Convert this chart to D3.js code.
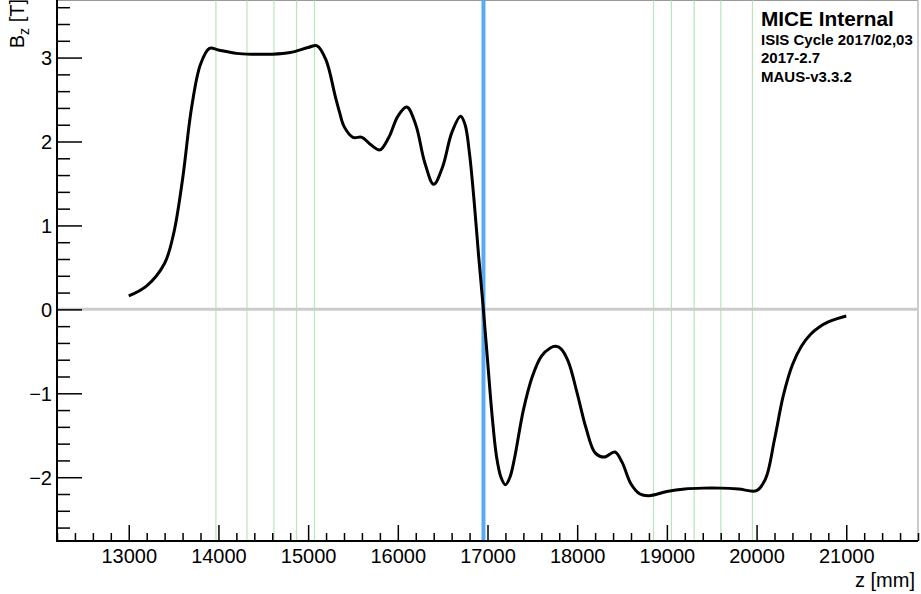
<!DOCTYPE html>
<html>
<head>
<meta charset="utf-8">
<script src="https://cdn.jsdelivr.net/npm/d3@7"></script>
<style>
  html, body { margin: 0; padding: 0; background: #fff; }
  svg { display: block; font-family: "Liberation Sans", Arial, Helvetica, sans-serif; }
</style>
</head>
<body>
<svg id="chart" width="921" height="594"></svg>
<script>
// On-axis field profile Bz(z)
const zPos = [13000, 13200, 13400, 13500, 13600, 13700, 13800, 13900, 14000, 14200, 14400, 14600, 14800, 15000, 15100,
  15200, 15300, 15350, 15400, 15500, 15600, 15700, 15800, 15900, 16000, 16100, 16200, 16300, 16400, 16500, 16600, 16700,
  16750, 16800, 16850, 16900, 16950, 17000, 17050, 17100, 17150, 17200, 17250, 17300, 17400, 17500, 17600, 17700,
  17760, 17820, 17900, 18000, 18100, 18200, 18300, 18420, 18500, 18600, 18700, 18800, 19000, 19200, 19400, 19600, 19800, 20000,
  20100, 20200, 20300, 20400, 20500, 20600, 20700, 20800, 20900, 21000];
const bzVals = [0.16, 0.28, 0.55, 0.90, 1.55, 2.40, 2.92, 3.11, 3.09, 3.05, 3.04, 3.04, 3.06, 3.12, 3.14,
  2.97, 2.55, 2.35, 2.18, 2.05, 2.05, 1.96, 1.90, 2.05, 2.30, 2.41, 2.20, 1.75, 1.49, 1.70, 2.10, 2.30,
  2.20, 1.85, 1.30, 0.65, 0.05, -0.60, -1.25, -1.75, -2.00, -2.09, -2.00, -1.78, -1.20, -0.80, -0.56, -0.46,
  -0.44, -0.47, -0.62, -1.00, -1.42, -1.71, -1.76, -1.70, -1.82, -2.08, -2.20, -2.22, -2.17, -2.14, -2.13, -2.13, -2.14, -2.16,
  -2.02, -1.55, -1.02, -0.66, -0.44, -0.30, -0.21, -0.15, -0.11, -0.08];

// Element positions along z (thin green markers) and the central plane (blue)
const elementZ = [13972, 14318, 14619, 14871, 15071, 18851, 19051, 19304, 19602, 19954];
const centreZ = [16955];

const xMajor = [13000, 14000, 15000, 16000, 17000, 18000, 19000, 20000, 21000];
const yMajor = [-2, -1, 0, 1, 2, 3];
const labelLines = ["ISIS Cycle 2017/02,03", "2017-2.7", "MAUS-v3.3.2"];

const svg = d3.select("#chart");
const pLeft = 57, pRight = 918, pTop = 0.5, pBottom = 541;

const x = d3.scaleLinear().domain([12200, 21800]).range([pLeft, pRight]);
const y = d3.scaleLinear().domain([-2.76, 3.68]).range([pBottom, pTop]);

// frame (top/right edges)
svg.append("path")
  .attr("d", `M${pLeft},${pTop}H${pRight}V${pBottom}`)
  .attr("fill", "none").attr("stroke", "#999").attr("stroke-width", 1);

// green element markers
svg.append("g").selectAll("line").data(elementZ).join("line")
  .attr("x1", d => x(d)).attr("x2", d => x(d))
  .attr("y1", pTop).attr("y2", pBottom)
  .attr("stroke", "#b8e6b8").attr("stroke-width", 1.2);

// zero line
svg.append("line")
  .attr("x1", pLeft).attr("x2", pRight)
  .attr("y1", y(0)).attr("y2", y(0))
  .attr("stroke", "#cccccc").attr("stroke-width", 3);

// central plane
svg.append("g").selectAll("line").data(centreZ).join("line")
  .attr("x1", d => x(d)).attr("x2", d => x(d))
  .attr("y1", pTop).attr("y2", pBottom)
  .attr("stroke", "#58aaf5").attr("stroke-width", 4);

// field curve
const pts = zPos.map((z, i) => [z, bzVals[i]]);
svg.append("path")
  .datum(pts)
  .attr("fill", "none")
  .attr("stroke", "#000")
  .attr("stroke-width", 3)
  .attr("stroke-linejoin", "round")
  .attr("d", d3.line().x(d => x(d[0])).y(d => y(d[1])).curve(d3.curveCatmullRom.alpha(0.5)));

// x axis: minor + major ticks pointing inward
const xMinor = d3.range(12200, 21801, 200).filter(v => !xMajor.includes(v));
const gx = svg.append("g").attr("transform", `translate(0,${pBottom})`);
gx.append("g").call(d3.axisBottom(x).tickValues(xMinor).tickSize(-8).tickFormat(""))
  .call(g => g.select(".domain").remove());
gx.append("g").call(d3.axisBottom(x).tickValues(xMajor).tickSize(-16).tickPadding(0).tickFormat(d3.format("d")))
  .call(g => g.select(".domain").remove())
  .call(g => g.selectAll("text").attr("y", 22).attr("dy", 0).attr("font-size", 20)
    .attr("font-family", "Liberation Sans, Arial, sans-serif").attr("fill", "#000"));
gx.selectAll(".tick line").attr("stroke", "#000").attr("stroke-width", 1.5);
gx.append("line").attr("x1", pLeft - 1).attr("x2", pRight).attr("y1", 0).attr("y2", 0)
  .attr("stroke", "#000").attr("stroke-width", 2);

// y axis
const yMinor = d3.range(-2.6, 3.61, 0.2).map(v => Math.round(v * 10) / 10).filter(v => !yMajor.includes(v));
const gy = svg.append("g").attr("transform", `translate(${pLeft},0)`);
gy.append("g").call(d3.axisLeft(y).tickValues(yMinor).tickSize(-13).tickFormat(""))
  .call(g => g.select(".domain").remove());
gy.append("g").call(d3.axisLeft(y).tickValues(yMajor).tickSize(-25).tickPadding(0).tickFormat(d3.format("d")))
  .call(g => g.select(".domain").remove())
  .call(g => g.selectAll("text").attr("x", -5).attr("dy", "0.36em").attr("font-size", 20)
    .attr("font-family", "Liberation Sans, Arial, sans-serif").attr("fill", "#000"));
gy.selectAll(".tick line").attr("stroke", "#000").attr("stroke-width", 1.5);
gy.append("line").attr("x1", 0).attr("x2", 0).attr("y1", pTop - 1).attr("y2", pBottom + 1)
  .attr("stroke", "#000").attr("stroke-width", 2);

// axis titles
svg.append("text")
  .attr("x", 915).attr("y", 587)
  .attr("text-anchor", "end").attr("font-size", 20)
  .text("z [mm]");

const yt = svg.append("text")
  .attr("transform", "translate(24,-1) rotate(-90)")
  .attr("text-anchor", "end").attr("font-size", 20);
yt.append("tspan").text("B");
yt.append("tspan").attr("font-size", 14).attr("dy", 5).text("z");
yt.append("tspan").attr("dy", -5).text(" [T]");

// run information
svg.append("text")
  .attr("x", 761).attr("y", 26)
  .attr("font-size", 20.8).attr("font-weight", "bold")
  .text("MICE Internal");
svg.append("g").selectAll("text").data(labelLines).join("text")
  .attr("x", 761).attr("y", (d, i) => 45 + i * 18.3)
  .attr("font-size", 15).attr("font-weight", "bold")
  .text(d => d);
</script>
</body>
</html>
